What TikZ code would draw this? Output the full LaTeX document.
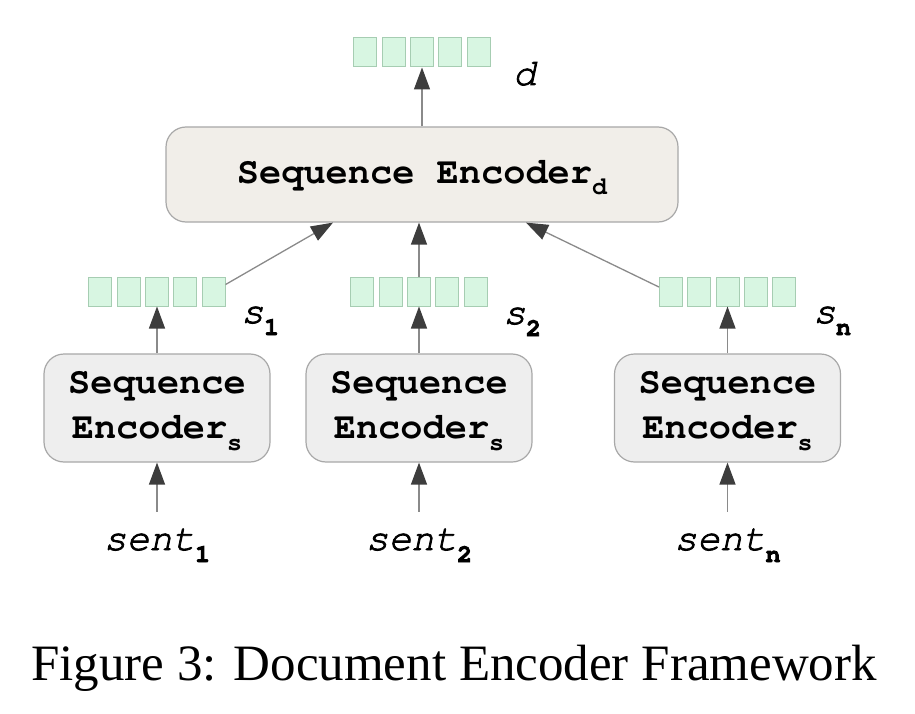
\documentclass[tikz,border=0pt]{standalone}
\usepackage[T1,TU]{fontenc}
\usepackage{fontspec}
\setmainfont{Liberation Serif}
\usetikzlibrary{arrows.meta}
\definecolor{cellfill}{HTML}{D8F6E2}
\definecolor{cellline}{HTML}{A6CDB2}
\definecolor{topfill}{HTML}{F1EEE9}
\definecolor{encfill}{HTML}{EEEEEE}
\definecolor{boxline}{HTML}{A8A8A8}
\definecolor{linegray}{HTML}{8A8A8A}
\definecolor{headgray}{HTML}{3D3D3D}
\newcommand{\cour}{\fontencoding{T1}\fontfamily{pcr}\selectfont}
\newcommand{\thk}{\special{pdf:literal direct 2 Tr 0.8 w}}
\newcommand{\thn}{\special{pdf:literal direct 0 Tr}}
\newcommand{\mysub}[1]{\raisebox{-12pt}{\fontsize{25}{25}\selectfont\bfseries\upshape #1}}
\newcommand{\cellrow}[3]{\foreach \i in {1,...,5}{\node[cell] (#1-\i) at ({#2+28.3*(\i-3)},#3) {};}}
\begin{document}
\begin{tikzpicture}[x=1pt,y=-1pt,
  cell/.style={draw=cellline, fill=cellfill, line width=1pt, minimum width=23pt, minimum height=29pt, inner sep=0pt},
  topbox/.style={draw=boxline, fill=topfill, rounded corners=20pt, line width=1.2pt, minimum width=512pt, minimum height=95pt, inner sep=0pt, font=\cour\fontsize{37}{45}\selectfont\bfseries, text height=22pt, text depth=5pt},
  encbox/.style={draw=boxline, fill=encfill, rounded corners=20pt, line width=1.2pt, minimum width=226pt, minimum height=108pt, inner sep=0pt},
  enctext/.style={font=\cour\fontsize{37}{45}\selectfont\bfseries, inner sep=0pt, anchor=base},
  lbl/.style={font=\cour\fontsize{38}{38}\selectfont\itshape, inner sep=0pt},
  arr/.style={draw=linegray, line width=1.3pt, -{Triangle[length=22pt,width=16pt,color=headgray]}}
]
\useasboundingbox (0,0) rectangle (915,714);
% top encoder
\node[topbox] (top) at (422,174.5) {\thn Sequence Encoder\mysub{d}};
\cellrow{v0}{422}{52.5}
\node[lbl, anchor=base west] (dl) at (513,85) {\thk d};
% vectors
\cellrow{v1}{157}{291.5}
\cellrow{v2}{419}{291.5}
\cellrow{vn}{727.5}{291.5}
\node[lbl, anchor=base west] (s1l) at (241,323) {\thk s\mysub{1}};
\node[lbl, anchor=base west] (s2l) at (503,324) {\thk s\mysub{2}};
\node[lbl, anchor=base west] (snl) at (813,323) {\thk s\mysub{n}};
% sentence encoders
\node[encbox] (e1) at (157,408) {};
\node[encbox] (e2) at (419,408) {};
\node[encbox] (en) at (727.5,408) {};
\node[enctext] (e1a) at (157,393) {\thn Sequence};
\node[enctext] (e1b) at (157,438) {\thn Encoder\mysub{s}};
\node[enctext] (e2a) at (419,393) {\thn Sequence};
\node[enctext] (e2b) at (419,438) {\thn Encoder\mysub{s}};
\node[enctext] (ena) at (727.5,393) {\thn Sequence};
\node[enctext] (enb) at (727.5,438) {\thn Encoder\mysub{s}};
% sentences
\node[lbl, anchor=base] (t1) at (157,550) {\thk sent\mysub{1}};
\node[lbl, anchor=base] (t2) at (419,550) {\thk sent\mysub{2}};
\node[lbl, anchor=base] (tn) at (727.5,550) {\thk sent\mysub{n}};
% arrows
\draw[arr, shorten <=17pt] (t1.north) -- (e1.south);
\draw[arr, shorten <=17pt] (t2.north) -- (e2.south);
\draw[arr, shorten <=17pt] (tn.north) -- (en.south);
\draw[arr] (e1.north) -- (v1-3.south);
\draw[arr] (e2.north) -- (v2-3.south);
\draw[arr] (en.north) -- (vn-3.south);
\draw[arr] ([yshift=7pt]v1-5.east) -- ([xshift=-89pt]top.south);
\draw[arr] (v2-3.north) -- (top.south -| v2-3.north);
\draw[arr] ([yshift=4.5pt]vn-1.west) -- ([xshift=104pt]top.south);
\draw[arr] (top.north) -- (v0-3.south);
% caption
\node[font=\fontsize{51}{58}\selectfont, anchor=base, inner sep=0pt] (cap) at (454,680) {\thn Figure 3: Document Encoder Framework};
\end{tikzpicture}
\end{document}
